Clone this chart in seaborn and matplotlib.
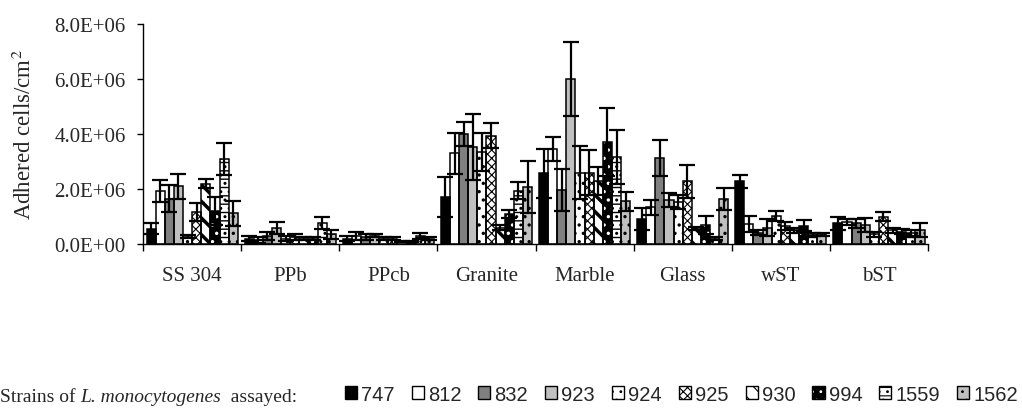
import numpy as np
import pandas as pd
import seaborn as sns
import matplotlib.pyplot as plt
from matplotlib.patches import Patch, Rectangle
from matplotlib.legend_handler import HandlerTuple
from matplotlib.offsetbox import TextArea, HPacker, AnchoredOffsetbox
from matplotlib.ticker import FuncFormatter

# 表面材料 / 菌株
materials = ['SS 304', 'PPb', 'PPcb', 'Granite', 'Marble', 'Glass', 'wST', 'bST']
strains = ['747', '812', '832', '923', '924', '925', '930', '994', '1559', '1562']

# 平均值 (x 1E6 cells/cm2)
mean_747 = [0.55, 0.20, 0.20, 1.72, 2.57, 0.91, 2.28, 0.75]
mean_812 = [1.94, 0.15, 0.30, 3.30, 3.45, 1.33, 0.73, 0.80]
mean_832 = [1.65, 0.30, 0.25, 4.00, 1.97, 3.12, 0.42, 0.75]
mean_923 = [2.10, 0.60, 0.30, 3.54, 6.00, 1.60, 0.60, 0.70]
mean_924 = [0.28, 0.20, 0.20, 3.35, 2.60, 1.52, 1.03, 0.35]
mean_925 = [1.17, 0.25, 0.20, 3.94, 2.60, 2.28, 0.67, 1.00]
mean_930 = [2.20, 0.20, 0.10, 0.60, 2.30, 0.57, 0.50, 0.50]
mean_994 = [1.20, 0.20, 0.10, 1.09, 3.72, 0.69, 0.67, 0.45]
mean_1559 = [3.09, 0.75, 0.30, 1.94, 3.18, 0.20, 0.35, 0.40]
mean_1562 = [1.12, 0.35, 0.20, 2.08, 1.55, 1.64, 0.35, 0.50]

# 标准差
sd_747 = [0.20, 0.10, 0.10, 0.73, 0.90, 0.39, 0.24, 0.25]
sd_812 = [0.40, 0.10, 0.15, 0.75, 0.43, 0.27, 0.28, 0.10]
sd_832 = [0.50, 0.15, 0.10, 0.45, 0.75, 0.66, 0.10, 0.15]
sd_923 = [0.45, 0.22, 0.05, 1.20, 1.33, 0.25, 0.30, 0.25]
sd_924 = [0.05, 0.10, 0.05, 0.70, 0.95, 0.25, 0.18, 0.10]
sd_925 = [0.32, 0.10, 0.05, 0.45, 0.80, 0.60, 0.15, 0.15]
sd_930 = [0.15, 0.05, 0.03, 0.10, 0.50, 0.05, 0.10, 0.10]
sd_994 = [0.50, 0.05, 0.03, 0.15, 1.23, 0.33, 0.20, 0.10]
sd_1559 = [0.58, 0.22, 0.10, 0.30, 0.98, 0.05, 0.05, 0.10]
sd_1562 = [0.45, 0.15, 0.05, 0.95, 0.33, 0.39, 0.05, 0.25]

means = [mean_747, mean_812, mean_832, mean_923, mean_924,
         mean_925, mean_930, mean_994, mean_1559, mean_1562]
sds = [sd_747, sd_812, sd_832, sd_923, sd_924,
       sd_925, sd_930, sd_994, sd_1559, sd_1562]

rows = []
for s, m in zip(strains, means):
    for mat, v in zip(materials, m):
        rows.append({'material': mat, 'strain': s, 'cells': v * 1e6})
df = pd.DataFrame(rows)

# 填充样式: (facecolor, hatch color, hatch, hatch linewidth)
styles = {
    '747': ('black', 'black', None, 0.8),
    '812': ('white', 'black', None, 0.8),
    '832': ('#808080', 'black', None, 0.8),
    '923': ('#c0c0c0', 'black', None, 0.8),
    '924': ('white', 'black', '..', 1.2),
    '925': ('white', 'black', 'xxxx', 0.8),
    '930': ('white', 'black', '\\\\', 2.5),
    '994': ('black', 'white', '..', 1.2),
    '1559': ('white', 'black', '--..', 1.0),
    '1562': ('#c0c0c0', 'black', '..', 1.2),
}

sns.set_style('white')
plt.rcParams['font.family'] = ['Liberation Serif', 'DejaVu Serif']
plt.rcParams['mathtext.fontset'] = 'stix'
plt.rcParams['hatch.linewidth'] = 0.8

fig = plt.figure(figsize=(10.22, 4.14), dpi=100)
ax = fig.add_axes([0.140, 0.408, 0.768, 0.532])

sns.barplot(data=df, x='material', y='cells', hue='strain', order=materials,
            hue_order=strains, errorbar=None, width=0.93, gap=0, saturation=1,
            legend=False, ax=ax)

containers = list(ax.containers)
for s, cont, sd in zip(strains, containers, sds):
    fc, hc, hatch, hlw = styles[s]
    xs, hs, es = [], [], []
    for bar in cont:
        bar.set_facecolor(fc)
        bar.set_edgecolor(hc)
        bar.set_hatch(hatch)
        if hasattr(bar, 'set_hatch_linewidth'):
            bar.set_hatch_linewidth(hlw)
        bar.set_linewidth(0)
        ax.add_patch(Rectangle(bar.get_xy(), bar.get_width(), bar.get_height(),
                               fill=False, ec='black', lw=1.1, zorder=bar.get_zorder() + 0.1))
        cx = bar.get_x() + bar.get_width() / 2
        xs.append(cx)
        hs.append(bar.get_height())
        es.append(sd[int(round(cx))] * 1e6)
    ax.errorbar(xs, hs, yerr=es, fmt='none', ecolor='black', elinewidth=1.6,
                capsize=5.5, capthick=1.6, zorder=4)

ax.set_xlim(-0.5, 7.5)
ax.set_ylim(0, 8e6)
ax.set_yticks(np.arange(0, 8.1e6, 2e6))
ax.yaxis.set_major_formatter(FuncFormatter(lambda v, _: f'{v:.1E}'))
ax.set_xticks(range(len(materials)))
ax.set_xticklabels(materials)
ax.set_xticks(np.arange(-0.5, 8, 1), minor=True)
ax.tick_params(axis='x', which='major', length=0, pad=16, labelsize=15)
ax.tick_params(axis='x', which='minor', bottom=True, length=5, width=1, color='black')
ax.tick_params(axis='y', left=True, length=4.5, width=1, color='black', pad=8, labelsize=15)
ax.set_xlabel('')
ax.set_ylabel('Adhered cells/cm$^2$', fontsize=16.5, labelpad=13)
sns.despine(ax=ax)
for sp in ['left', 'bottom']:
    ax.spines[sp].set_color('black')
    ax.spines[sp].set_linewidth(1.0)

# 底部说明文字
txt = HPacker(children=[
    TextArea('Strains of ', textprops=dict(size=14, family='Liberation Serif')),
    TextArea('L. monocytogenes', textprops=dict(size=14, family='Liberation Serif', style='italic')),
    TextArea('  assayed:', textprops=dict(size=14, family='Liberation Serif')),
], align='baseline', pad=0, sep=0)
box = AnchoredOffsetbox(loc='center left', child=txt, pad=0, borderpad=0, frameon=False,
                        bbox_to_anchor=(0.0, 0.04), bbox_transform=fig.transFigure)
fig.add_artist(box)

# 图例
handles = []
for s in strains:
    fc, hc, hatch, hlw = styles[s]
    handles.append((Patch(facecolor=fc, edgecolor=hc, hatch=hatch, lw=0),
                    Patch(fill=False, edgecolor='black', lw=1.0)))
fig.legend(handles, strains, handler_map={tuple: HandlerTuple(ndivide=1, pad=0)},
           loc='center right', bbox_to_anchor=(1018 / 1022, 0.045), ncol=10, frameon=False,
           prop={'family': 'Liberation Sans', 'size': 14.5}, handlelength=0.6,
           handleheight=0.6, handletextpad=0.2, columnspacing=0.85, borderpad=0,
           borderaxespad=0)

fig.savefig('out.png', dpi=100)
